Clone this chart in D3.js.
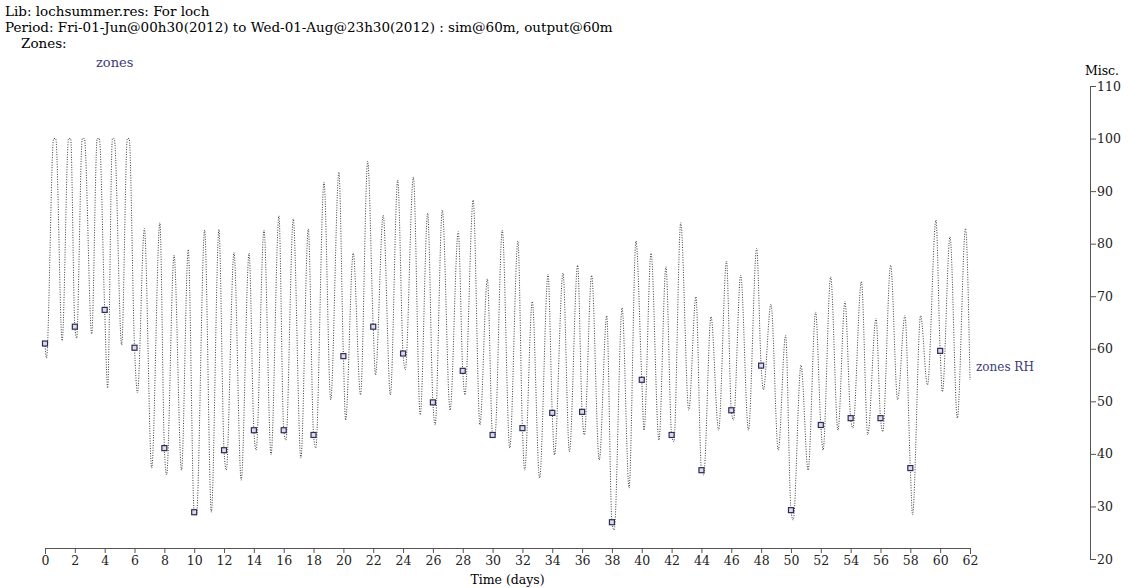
<!DOCTYPE html>
<html>
<head>
<meta charset="utf-8">
<script src="https://cdn.jsdelivr.net/npm/d3@7/dist/d3.min.js"></script>
<style>
  body { margin: 0; background: #fff; }
  svg text { font-family: "DejaVu Serif", Georgia, serif; }
</style>
</head>
<body>
<svg id="chart" width="1137" height="588"></svg>
<script>
// time in days since 01-Jun 00h00 (troughs, peaks, marker points)
const dayPts = [
  0, 0.1, 0.58, 0.72, 1.15, 1.58, 1.72, 2, 2.12, 2.5, 2.64, 3.13, 3.5, 3.64,
  4, 4.2, 4.52, 4.64, 5.14, 5.52, 5.64, 6, 6.2, 6.66, 7.15, 7.7,
  8, 8.15, 8.65, 9.15, 9.6, 10, 10.15, 10.7, 11.15, 11.66,
  12, 12.15, 12.67, 13.15, 13.68, 14, 14.15, 14.68, 15.15, 15.68,
  16, 16.15, 16.64, 17.15, 17.65, 18, 18.15, 18.7, 19.15, 19.7,
  20, 20.15, 20.66, 21.15, 21.63, 22, 22.15, 22.67, 23.15, 23.64,
  24, 24.15, 24.69, 25.15, 25.65, 26, 26.15, 26.63, 27.15, 27.7,
  28, 28.15, 28.7, 29.15, 29.65, 30, 30.15, 30.65, 31.15, 31.7,
  32, 32.15, 32.66, 33.15, 33.72, 34, 34.15, 34.72, 35.15, 35.7,
  36, 36.15, 36.64, 37.15, 37.65, 38, 38.15, 38.68, 39.15, 39.61,
  40, 40.15, 40.62, 41.15, 41.62, 42, 42.15, 42.61, 43.15, 43.63,
  44, 44.15, 44.64, 45.15, 45.68, 46, 46.15, 46.63, 47.15, 47.7,
  48, 48.15, 48.66, 49.15, 49.64, 50, 50.15, 50.67, 51.15, 51.65,
  52, 52.15, 52.66, 53.15, 53.62, 54, 54.15, 54.72, 55.15, 55.7,
  56, 56.15, 56.68, 57.15, 57.64, 58, 58.15, 58.69, 59.15, 59.72,
  60, 60.15, 60.66, 61.15, 61.7, 62
];
// zone relative humidity (%)
const rhPts = [
  61.0, 58.2, 100, 100, 61.5, 100, 100, 64.2, 62.0, 100, 100, 62.8, 100, 100,
  67.4, 52.5, 100, 100, 60.7, 100, 100, 60.2, 51.6, 82.9, 37.3, 84.0,
  41.1, 36.0, 77.8, 36.9, 78.9, 28.9, 28.4, 82.6, 28.9, 82.7,
  40.7, 36.9, 78.3, 35.0, 78.2, 44.5, 40.7, 82.6, 39.8, 85.3,
  44.5, 42.6, 84.7, 39.2, 82.8, 43.6, 41.1, 91.7, 50.3, 93.6,
  58.6, 46.4, 78.2, 51.2, 95.7, 64.2, 55.0, 85.4, 51.2, 92.1,
  59.1, 56.0, 92.7, 47.4, 85.8, 49.8, 45.5, 86.4, 48.3, 82.3,
  55.8, 51.2, 88.3, 45.5, 73.3, 43.6, 43.2, 82.6, 41.1, 80.5,
  44.9, 36.9, 69.0, 35.4, 74.2, 47.8, 39.8, 74.4, 40.4, 75.9,
  48.0, 43.6, 74.0, 38.8, 66.3, 27.0, 25.5, 67.8, 33.5, 80.5,
  54.1, 44.5, 78.2, 42.6, 75.6, 43.6, 42.3, 84.0, 48.3, 69.9,
  36.9, 36.0, 66.1, 44.5, 76.7, 48.3, 46.4, 74.0, 44.5, 79.1,
  56.8, 52.2, 68.5, 40.7, 62.6, 29.3, 27.4, 56.9, 36.9, 67.0,
  45.5, 40.7, 73.7, 44.5, 69.0, 46.8, 44.9, 72.8, 43.6, 65.8,
  46.8, 44.2, 75.9, 50.3, 66.3, 37.3, 28.4, 66.3, 53.1, 84.5,
  59.6, 51.8, 81.3, 46.8, 82.9, 54.1
];
const markerDays = [0, 2, 4, 6, 8, 10, 12, 14, 16, 18, 20, 22, 24, 26, 28, 30,
  32, 34, 36, 38, 40, 42, 44, 46, 48, 50, 52, 54, 56, 58, 60];
const xTickVals = [0, 2, 4, 6, 8, 10, 12, 14, 16, 18, 20, 22, 24, 26, 28, 30, 32,
  34, 36, 38, 40, 42, 44, 46, 48, 50, 52, 54, 56, 58, 60, 62];
const yTickVals = [20, 30, 40, 50, 60, 70, 80, 90, 100, 110];

const headerLines = [
  "Lib: lochsummer.res: For loch",
  "Period: Fri-01-Jun@00h30(2012) to Wed-01-Aug@23h30(2012) : sim@60m, output@60m"
];

var svg = d3.select("#chart");

var x = d3.scaleLinear().domain([0, 62]).range([45, 970]);
var y = d3.scaleLinear().domain([20, 110]).range([559, 86]);

var series = dayPts.map((d, i) => ({day: d, rh: rhPts[i]}));

// header
svg.selectAll(".hdr")
    .data(headerLines)
    .enter()
    .append("text")
    .attr("class", "hdr")
    .attr("x", 5)
    .attr("y", (d, i) => 16 + i * 16)
    .style("font-size", "13.5px")
    .text(d => d);

svg.append("text")
    .attr("x", 21).attr("y", 48)
    .style("font-size", "13.5px")
    .text("Zones:");

svg.append("text")
    .attr("x", 96).attr("y", 67)
    .style("font-size", "13px")
    .style("fill", "#3b3b78")
    .text("zones");

// axes
var xAxis = d3.axisBottom(x).tickValues(xTickVals).tickSize(5).tickSizeOuter(6);
var gx = svg.append("g")
    .attr("transform", "translate(0,548)")
    .call(xAxis);

var yAxis = d3.axisRight(y).tickValues(yTickVals).tickSize(6).tickSizeOuter(6);
var gy = svg.append("g")
    .attr("transform", "translate(1090,0)")
    .call(yAxis);

[gx, gy].forEach(g => {
    g.selectAll("path, line").attr("stroke", "#555");
    g.selectAll("text").style("font-family", "\"DejaVu Serif\", Georgia, serif")
        .style("font-size", "12.5px").attr("fill", "#222");
});
gy.selectAll("text").attr("x", 7);

svg.append("text")
    .attr("x", 1102).attr("y", 75)
    .attr("text-anchor", "middle")
    .style("font-size", "12.5px")
    .text("Misc.");

svg.append("text")
    .attr("x", (x(0) + x(62)) / 2).attr("y", 584)
    .attr("text-anchor", "middle")
    .style("font-size", "12.5px")
    .text("Time (days)");

// RH line
var line = d3.line()
    .x(d => x(d.day))
    .y(d => y(d.rh))
    .curve(d3.curveMonotoneX);

svg.append("path")
    .datum(series)
    .attr("d", line)
    .attr("fill", "none")
    .attr("stroke", "#3a3a3a")
    .attr("stroke-width", 1)
    .attr("stroke-dasharray", "1,1.5");

svg.selectAll(".mark")
    .data(series.filter(d => markerDays.includes(d.day)))
    .enter()
    .append("rect")
    .attr("class", "mark")
    .attr("x", d => x(d.day) - 2.5)
    .attr("y", d => y(d.rh) - 2.5)
    .attr("width", 5)
    .attr("height", 5)
    .attr("fill", "#dcdce8")
    .attr("stroke", "#2c2c58")
    .attr("stroke-width", 1.2);

svg.append("text")
    .attr("x", x(62) + 6).attr("y", y(56.6) + 4)
    .style("font-size", "12px")
    .style("fill", "#3b3b78")
    .text("zones RH");
</script>
</body>
</html>
